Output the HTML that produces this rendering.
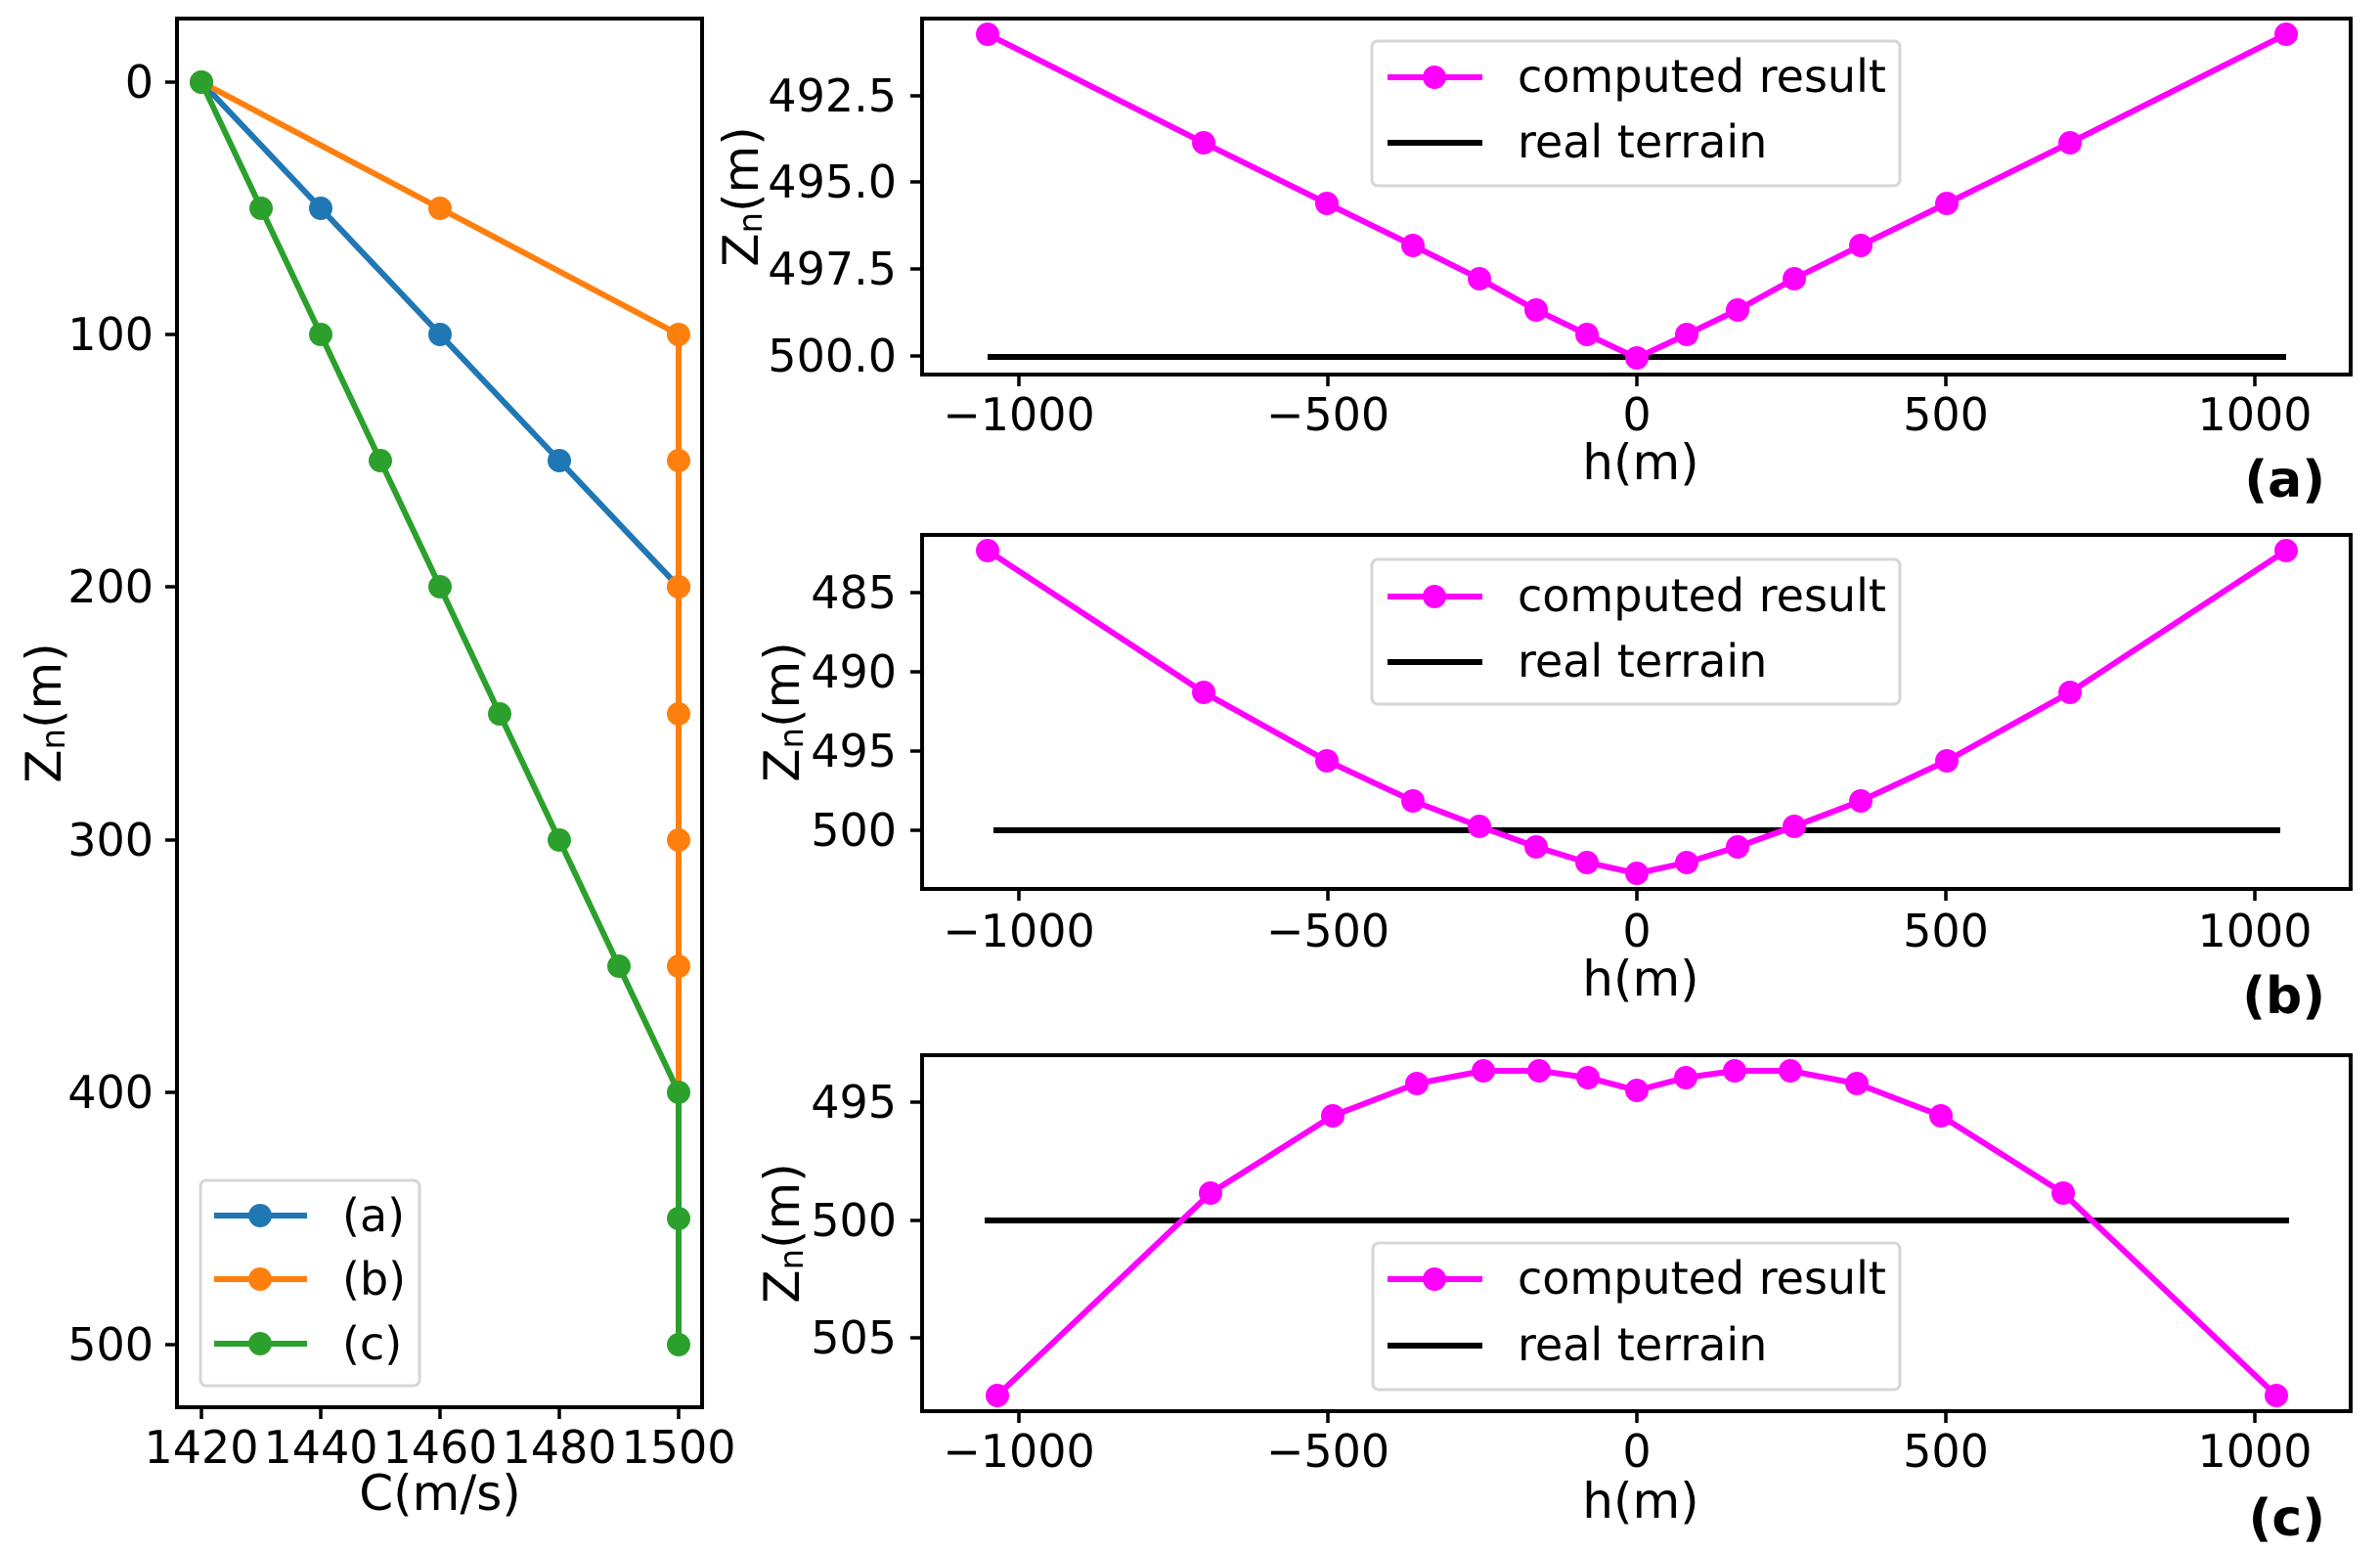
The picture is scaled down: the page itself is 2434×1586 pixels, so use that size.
<!DOCTYPE html>
<html><head><meta charset="utf-8"><style>
html,body{margin:0;padding:0;background:#fff}
svg{display:block}
text{font-family:"DejaVu Sans","Liberation Sans",sans-serif;fill:#000}
</style></head><body>
<svg width="2434" height="1586" viewBox="0 0 2434 1586" xmlns="http://www.w3.org/2000/svg">
<rect width="2434" height="1586" fill="#fff"/>

<!-- LEFT PLOT -->
<g>
<polyline fill="none" stroke="#1f77b4" stroke-width="6" points="206,84 328,213 450,342 572,471 694,600 694,1375"/>
<g fill="#1f77b4"><circle cx="206" cy="84" r="12"/><circle cx="328" cy="213" r="12"/><circle cx="450" cy="342" r="12"/><circle cx="572" cy="471" r="12"/><circle cx="694" cy="600" r="12"/></g>
<polyline fill="none" stroke="#ff7f0e" stroke-width="6" points="206,84 450,213 694,342 694,1375"/>
<g fill="#ff7f0e"><circle cx="206" cy="84" r="12"/><circle cx="450" cy="213" r="12"/><circle cx="694" cy="342" r="12"/><circle cx="694" cy="471" r="12"/><circle cx="694" cy="600" r="12"/><circle cx="694" cy="730" r="12"/><circle cx="694" cy="859" r="12"/><circle cx="694" cy="988" r="12"/></g>
<polyline fill="none" stroke="#2ca02c" stroke-width="6" points="206,84 267,213 328,342 389,471 450,600 511,730 572,859 633,988 694,1117 694,1246 694,1375"/>
<g fill="#2ca02c"><circle cx="206" cy="84" r="12"/><circle cx="267" cy="213" r="12"/><circle cx="328" cy="342" r="12"/><circle cx="389" cy="471" r="12"/><circle cx="450" cy="600" r="12"/><circle cx="511" cy="730" r="12"/><circle cx="572" cy="859" r="12"/><circle cx="633" cy="988" r="12"/><circle cx="694" cy="1117" r="12"/><circle cx="694" cy="1246" r="12"/><circle cx="694" cy="1375" r="12"/></g>
<rect x="181" y="19" width="537" height="1420" fill="none" stroke="#000" stroke-width="4"/>
<g stroke="#000" stroke-width="3.5">
<line x1="169" y1="84" x2="181" y2="84"/><line x1="169" y1="342" x2="181" y2="342"/><line x1="169" y1="600" x2="181" y2="600"/><line x1="169" y1="859" x2="181" y2="859"/><line x1="169" y1="1117" x2="181" y2="1117"/><line x1="169" y1="1375" x2="181" y2="1375"/>
<line x1="206" y1="1439" x2="206" y2="1451"/><line x1="328" y1="1439" x2="328" y2="1451"/><line x1="450" y1="1439" x2="450" y2="1451"/><line x1="572" y1="1439" x2="572" y2="1451"/><line x1="694" y1="1439" x2="694" y2="1451"/>
</g>
<g font-size="46" text-anchor="end">
<text x="157" y="100">0</text><text x="157" y="358">100</text><text x="157" y="616">200</text><text x="157" y="875">300</text><text x="157" y="1133">400</text><text x="157" y="1391">500</text>
</g>
<g font-size="46" text-anchor="middle">
<text x="206" y="1496">1420</text><text x="328" y="1496">1440</text><text x="450" y="1496">1460</text><text x="572" y="1496">1480</text><text x="694" y="1496">1500</text>
</g>
<text font-size="50" text-anchor="middle" x="450" y="1544">C(m/s)</text>
<text font-size="50" text-anchor="middle" transform="translate(62,729) rotate(-90)">Z<tspan font-size="34" dy="4">n</tspan><tspan dy="-4">(m)</tspan></text>
<rect x="205" y="1207" width="224" height="210" rx="6" fill="#fff" stroke="#d6d6d6" stroke-width="3"/>
<line x1="219" y1="1243" x2="314" y2="1243" stroke="#1f77b4" stroke-width="6"/><circle cx="266" cy="1243" r="12" fill="#1f77b4"/>
<line x1="219" y1="1308" x2="314" y2="1308" stroke="#ff7f0e" stroke-width="6"/><circle cx="266" cy="1308" r="12" fill="#ff7f0e"/>
<line x1="219" y1="1374" x2="314" y2="1374" stroke="#2ca02c" stroke-width="6"/><circle cx="266" cy="1374" r="12" fill="#2ca02c"/>
<g font-size="46"><text x="350" y="1259">(a)</text><text x="350" y="1324">(b)</text><text x="350" y="1390">(c)</text></g>
</g>

<!-- PANEL A -->
<g>
<line x1="1010" y1="365" x2="2338" y2="365" stroke="#000" stroke-width="6"/>
<polyline fill="none" stroke="#ff00ff" stroke-width="6" points="1010,35 1231,146 1357,208 1445,251 1513,285 1571,317 1623,342 1674,366 1725,342 1777,317 1835,285 1903,251 1991,208 2117,146 2338,35"/>
<g fill="#ff00ff"><circle cx="1010" cy="35" r="12"/><circle cx="1231" cy="146" r="12"/><circle cx="1357" cy="208" r="12"/><circle cx="1445" cy="251" r="12"/><circle cx="1513" cy="285" r="12"/><circle cx="1571" cy="317" r="12"/><circle cx="1623" cy="342" r="12"/><circle cx="1674" cy="366" r="12"/><circle cx="1725" cy="342" r="12"/><circle cx="1777" cy="317" r="12"/><circle cx="1835" cy="285" r="12"/><circle cx="1903" cy="251" r="12"/><circle cx="1991" cy="208" r="12"/><circle cx="2117" cy="146" r="12"/><circle cx="2338" cy="35" r="12"/></g>
<rect x="943" y="19" width="1461" height="364" fill="none" stroke="#000" stroke-width="4"/>
<g stroke="#000" stroke-width="3.5">
<line x1="931" y1="98" x2="943" y2="98"/><line x1="931" y1="186" x2="943" y2="186"/><line x1="931" y1="275" x2="943" y2="275"/><line x1="931" y1="364" x2="943" y2="364"/>
<line x1="1042" y1="383" x2="1042" y2="395"/><line x1="1358" y1="383" x2="1358" y2="395"/><line x1="1674" y1="383" x2="1674" y2="395"/><line x1="1990" y1="383" x2="1990" y2="395"/><line x1="2306" y1="383" x2="2306" y2="395"/>
</g>
<g font-size="46" text-anchor="end"><text x="917" y="114">492.5</text><text x="917" y="202">495.0</text><text x="917" y="291">497.5</text><text x="917" y="380">500.0</text></g>
<g font-size="46" text-anchor="middle"><text x="1042" y="440">−1000</text><text x="1358" y="440">−500</text><text x="1674" y="440">0</text><text x="1990" y="440">500</text><text x="2306" y="440">1000</text></g>
<text font-size="50" text-anchor="middle" x="1678" y="490">h(m)</text>
<text font-size="52" font-weight="bold" text-anchor="end" x="2378" y="508">(a)</text>
<text font-size="50" text-anchor="middle" transform="translate(775,201) rotate(-90)">Z<tspan font-size="34" dy="4">n</tspan><tspan dy="-4">(m)</tspan></text>
<rect x="1403" y="42" width="540" height="148" rx="6" fill="#fff" stroke="#d6d6d6" stroke-width="3"/>
<line x1="1419" y1="79" x2="1516" y2="79" stroke="#ff00ff" stroke-width="6"/><circle cx="1467" cy="79" r="12" fill="#ff00ff"/>
<line x1="1419" y1="146" x2="1516" y2="146" stroke="#000" stroke-width="6"/>
<g font-size="46"><text x="1552" y="94">computed result</text><text x="1552" y="161">real terrain</text></g>
</g>

<!-- PANEL B -->
<g>
<line x1="1016" y1="849" x2="2332" y2="849" stroke="#000" stroke-width="6"/>
<polyline fill="none" stroke="#ff00ff" stroke-width="6" points="1010,563 1231,708 1357,778 1445,819 1513,845 1571,866 1623,882 1674,893 1725,882 1777,866 1835,845 1903,819 1991,778 2117,708 2338,563"/>
<g fill="#ff00ff"><circle cx="1010" cy="563" r="12"/><circle cx="1231" cy="708" r="12"/><circle cx="1357" cy="778" r="12"/><circle cx="1445" cy="819" r="12"/><circle cx="1513" cy="845" r="12"/><circle cx="1571" cy="866" r="12"/><circle cx="1623" cy="882" r="12"/><circle cx="1674" cy="893" r="12"/><circle cx="1725" cy="882" r="12"/><circle cx="1777" cy="866" r="12"/><circle cx="1835" cy="845" r="12"/><circle cx="1903" cy="819" r="12"/><circle cx="1991" cy="778" r="12"/><circle cx="2117" cy="708" r="12"/><circle cx="2338" cy="563" r="12"/></g>
<rect x="943" y="547" width="1461" height="362" fill="none" stroke="#000" stroke-width="4"/>
<g stroke="#000" stroke-width="3.5">
<line x1="931" y1="606" x2="943" y2="606"/><line x1="931" y1="687" x2="943" y2="687"/><line x1="931" y1="768" x2="943" y2="768"/><line x1="931" y1="849" x2="943" y2="849"/>
<line x1="1042" y1="909" x2="1042" y2="921"/><line x1="1358" y1="909" x2="1358" y2="921"/><line x1="1674" y1="909" x2="1674" y2="921"/><line x1="1990" y1="909" x2="1990" y2="921"/><line x1="2306" y1="909" x2="2306" y2="921"/>
</g>
<g font-size="46" text-anchor="end"><text x="917" y="622">485</text><text x="917" y="703">490</text><text x="917" y="784">495</text><text x="917" y="865">500</text></g>
<g font-size="46" text-anchor="middle"><text x="1042" y="968">−1000</text><text x="1358" y="968">−500</text><text x="1674" y="968">0</text><text x="1990" y="968">500</text><text x="2306" y="968">1000</text></g>
<text font-size="50" text-anchor="middle" x="1678" y="1018">h(m)</text>
<text font-size="52" font-weight="bold" text-anchor="end" x="2378" y="1036">(b)</text>
<text font-size="50" text-anchor="middle" transform="translate(817,728) rotate(-90)">Z<tspan font-size="34" dy="4">n</tspan><tspan dy="-4">(m)</tspan></text>
<rect x="1403" y="572" width="540" height="148" rx="6" fill="#fff" stroke="#d6d6d6" stroke-width="3"/>
<line x1="1419" y1="610" x2="1516" y2="610" stroke="#ff00ff" stroke-width="6"/><circle cx="1467" cy="610" r="12" fill="#ff00ff"/>
<line x1="1419" y1="677" x2="1516" y2="677" stroke="#000" stroke-width="6"/>
<g font-size="46"><text x="1552" y="625">computed result</text><text x="1552" y="692">real terrain</text></g>
</g>

<!-- PANEL C -->
<g>
<line x1="1007" y1="1248" x2="2341" y2="1248" stroke="#000" stroke-width="6"/>
<polyline fill="none" stroke="#ff00ff" stroke-width="6" points="1020,1427 1238,1220 1363,1141 1449,1108 1517,1095 1574,1095 1624,1102 1674,1115 1724,1102 1774,1095 1831,1095 1899,1108 1985,1141 2110,1220 2328,1427"/>
<g fill="#ff00ff"><circle cx="1020" cy="1427" r="12"/><circle cx="1238" cy="1220" r="12"/><circle cx="1363" cy="1141" r="12"/><circle cx="1449" cy="1108" r="12"/><circle cx="1517" cy="1095" r="12"/><circle cx="1574" cy="1095" r="12"/><circle cx="1624" cy="1102" r="12"/><circle cx="1674" cy="1115" r="12"/><circle cx="1724" cy="1102" r="12"/><circle cx="1774" cy="1095" r="12"/><circle cx="1831" cy="1095" r="12"/><circle cx="1899" cy="1108" r="12"/><circle cx="1985" cy="1141" r="12"/><circle cx="2110" cy="1220" r="12"/><circle cx="2328" cy="1427" r="12"/></g>
<rect x="943" y="1079" width="1461" height="364" fill="none" stroke="#000" stroke-width="4"/>
<g stroke="#000" stroke-width="3.5">
<line x1="931" y1="1127" x2="943" y2="1127"/><line x1="931" y1="1248" x2="943" y2="1248"/><line x1="931" y1="1368" x2="943" y2="1368"/>
<line x1="1042" y1="1443" x2="1042" y2="1455"/><line x1="1358" y1="1443" x2="1358" y2="1455"/><line x1="1674" y1="1443" x2="1674" y2="1455"/><line x1="1990" y1="1443" x2="1990" y2="1455"/><line x1="2306" y1="1443" x2="2306" y2="1455"/>
</g>
<g font-size="46" text-anchor="end"><text x="917" y="1143">495</text><text x="917" y="1264">500</text><text x="917" y="1384">505</text></g>
<g font-size="46" text-anchor="middle"><text x="1042" y="1500">−1000</text><text x="1358" y="1500">−500</text><text x="1674" y="1500">0</text><text x="1990" y="1500">500</text><text x="2306" y="1500">1000</text></g>
<text font-size="50" text-anchor="middle" x="1678" y="1552">h(m)</text>
<text font-size="52" font-weight="bold" text-anchor="end" x="2378" y="1570">(c)</text>
<text font-size="50" text-anchor="middle" transform="translate(817,1261) rotate(-90)">Z<tspan font-size="34" dy="4">n</tspan><tspan dy="-4">(m)</tspan></text>
<rect x="1404" y="1271" width="539" height="150" rx="6" fill="#fff" stroke="#d6d6d6" stroke-width="3"/>
<line x1="1419" y1="1308" x2="1516" y2="1308" stroke="#ff00ff" stroke-width="6"/><circle cx="1467" cy="1308" r="12" fill="#ff00ff"/>
<line x1="1419" y1="1376" x2="1516" y2="1376" stroke="#000" stroke-width="6"/>
<g font-size="46"><text x="1552" y="1323">computed result</text><text x="1552" y="1391">real terrain</text></g>
</g>
</svg>
</body></html>
